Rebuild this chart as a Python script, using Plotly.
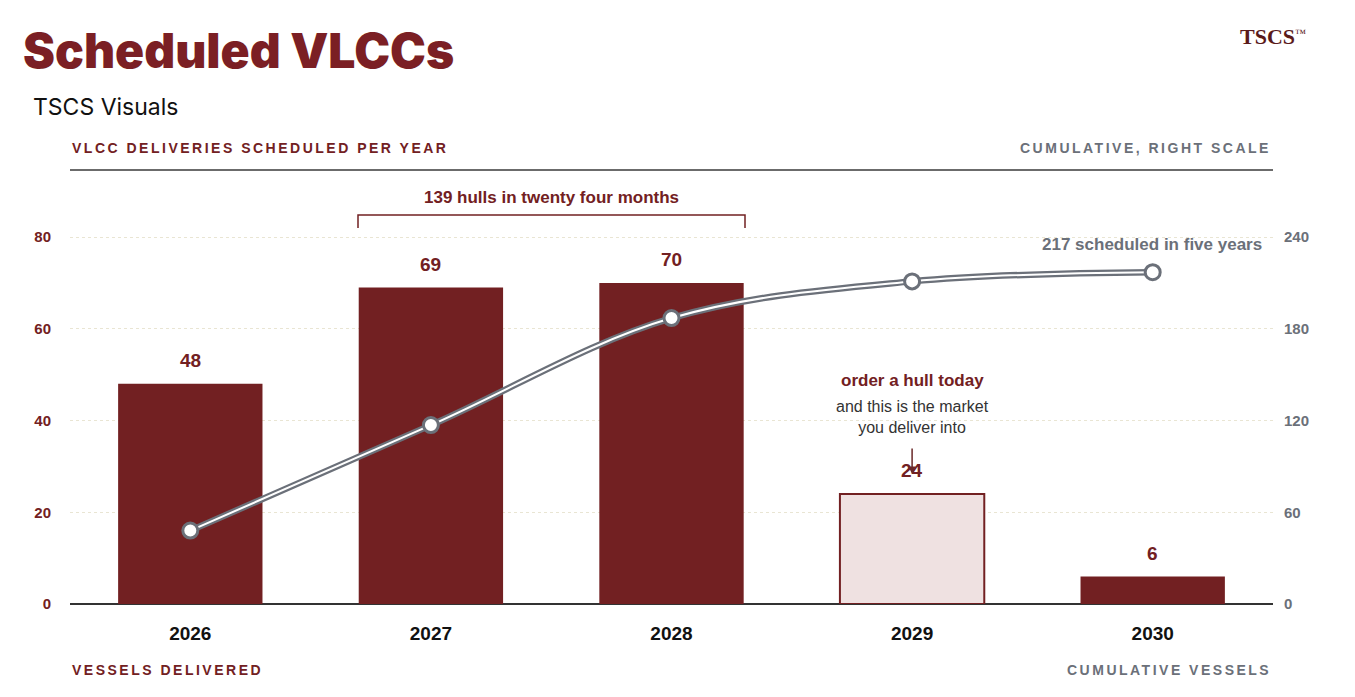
import plotly.graph_objects as go

# ---- data ----
years = ["2026", "2027", "2028", "2029", "2030"]
deliveries = [48, 69, 70, 24, 6]
cumulative = [48, 117, 187, 211, 217]
left_ticks = [0, 20, 40, 60, 80]
right_ticks = [0, 60, 120, 180, 240]

DARK_RED = "#722022"
GRAY = "#6b7079"
OFF = 8  # page body margin
W, H = 1355 - OFF, 697 - OFF
L, T = 70 - OFF, 182 - OFF
R, B = W - (1273 - OFF), H - (604 - OFF)
PW, PH = W - L - R, H - T - B


def px(x):
    # screen pixel -> paper x
    return (x - OFF - L) / PW


def py(y):
    # screen pixel -> paper y
    return (H - B - (y - OFF)) / PH


bar_fill = [DARK_RED] * len(years)
bar_fill[3] = "#efe1e1"

fig = go.Figure()
fig.add_trace(go.Bar(
    x=years, y=deliveries, width=0.6,
    marker=dict(color=bar_fill, line=dict(color=DARK_RED, width=[0, 0, 0, 2, 0])),
    hoverinfo="skip", showlegend=False,
))
# cumulative line: gray outer stroke with white core
fig.add_trace(go.Scatter(
    x=years, y=cumulative, yaxis="y2", mode="lines",
    line=dict(color=GRAY, width=6.5, shape="spline", smoothing=1),
    hoverinfo="skip", showlegend=False,
))
fig.add_trace(go.Scatter(
    x=years, y=cumulative, yaxis="y2", mode="lines+markers",
    line=dict(color="white", width=2, shape="spline", smoothing=1),
    marker=dict(size=15, color="white", line=dict(color=GRAY, width=3)),
    showlegend=False,
))

ann = []
# value labels above bars
for i, v in enumerate(deliveries):
    ann.append(dict(x=i, y=v, xref="x", yref="y", text=f"<b>{v}</b>", showarrow=False,
                    yshift=23, font=dict(size=19, color=DARK_RED, family="Liberation Sans")))

ls = "letter-spacing:2.5px"
ann += [
    dict(x=px(21), y=py(50), text="Scheduled VLCCs", xanchor="left", yanchor="middle",
         font=dict(size=48, color="#7b1f24", family="Inter", weight=900)),
    dict(x=px(31), y=py(107), text="TSCS Visuals", xanchor="left", yanchor="middle",
         font=dict(size=23, color="#111111", family="Inter")),
    dict(x=px(1308), y=py(36), text="<b>TSCS</b><span style='font-size:16px'><sup>™</sup></span>",
         xanchor="right", yanchor="middle",
         font=dict(size=22, color="#5a1a1a", family="Liberation Serif")),
    dict(x=0, y=py(148), text=f"<span style='{ls}'><b>VLCC DELIVERIES SCHEDULED PER YEAR</b></span>",
         xanchor="left", yanchor="middle", font=dict(size=14, color=DARK_RED, family="Liberation Sans")),
    dict(x=1, y=py(148), text=f"<span style='{ls}'><b>CUMULATIVE, RIGHT SCALE</b></span>",
         xanchor="right", yanchor="middle", font=dict(size=14, color=GRAY, family="Liberation Sans")),
    dict(x=0, y=py(670), text=f"<span style='{ls}'><b>VESSELS DELIVERED</b></span>",
         xanchor="left", yanchor="middle", font=dict(size=14, color=DARK_RED, family="Liberation Sans")),
    dict(x=1, y=py(670), text=f"<span style='{ls}'><b>CUMULATIVE VESSELS</b></span>",
         xanchor="right", yanchor="middle", font=dict(size=14, color=GRAY, family="Liberation Sans")),
    dict(x=px(551), y=py(197), text="<b>139 hulls in twenty four months</b>", yanchor="middle",
         font=dict(size=17, color=DARK_RED, family="Liberation Sans")),
    dict(x=px(1264), y=py(244), text="<b>217 scheduled in five years</b>", xanchor="right", yanchor="middle",
         font=dict(size=17, color=GRAY, family="Liberation Sans")),
    dict(x=3, xref="x", y=py(380), text="<b>order a hull today</b>", yanchor="middle",
         font=dict(size=17, color=DARK_RED, family="Liberation Sans")),
    dict(x=3, xref="x", y=py(417), text="and this is the market<br>you deliver into", yanchor="middle",
         font=dict(size=16, color="#333333", family="Liberation Sans")),
    dict(x=3, xref="x", y=py(474), ax=0, ay=-27, text="", showarrow=True,
         arrowhead=2, arrowsize=1, arrowwidth=1.5, arrowcolor="#6a2a2a"),
]
for a in ann:
    a.setdefault("xref", "paper")
    a.setdefault("yref", "paper")
    a.setdefault("showarrow", False)

shapes = [
    # header rule
    dict(type="line", xref="paper", yref="paper", x0=0, x1=1, y0=py(170), y1=py(170),
         line=dict(color="#3a3a3a", width=1.5)),
    # bracket over 2027-2028
    dict(type="path", xref="paper", yref="paper",
         path=f"M {px(358)},{py(228)} L {px(358)},{py(215)} L {px(745)},{py(215)} L {px(745)},{py(228)}",
         line=dict(color=DARK_RED, width=1.5)),
]

fig.update_layout(
    width=W, height=H, autosize=False,
    margin=dict(l=L, r=R, t=T, b=B),
    paper_bgcolor="white", plot_bgcolor="rgba(0,0,0,0)",
    xaxis=dict(
        type="category", range=[-0.5, 4.5], showgrid=False, zeroline=False,
        showline=False, ticks="", ticklabelstandoff=16,
        tickfont=dict(size=19, color="#111111", family="Liberation Sans", weight="bold"),
    ),
    yaxis=dict(
        range=[0, 92], tickvals=left_ticks, showgrid=True,
        gridcolor="#e9e5d3", griddash="dot", gridwidth=1,
        zeroline=True, zerolinecolor="#333333", zerolinewidth=2,
        ticks="", ticklabelstandoff=18,
        tickfont=dict(size=15, color=DARK_RED, family="Liberation Sans", weight="bold"),
    ),
    yaxis2=dict(
        range=[0, 276], tickvals=right_ticks, overlaying="y", side="right",
        showgrid=False, zeroline=False, ticks="", ticklabelstandoff=10,
        tickfont=dict(size=15, color=GRAY, family="Liberation Sans", weight="bold"),
    ),
    annotations=ann,
    shapes=shapes,
)

fig.write_html("out.html")
